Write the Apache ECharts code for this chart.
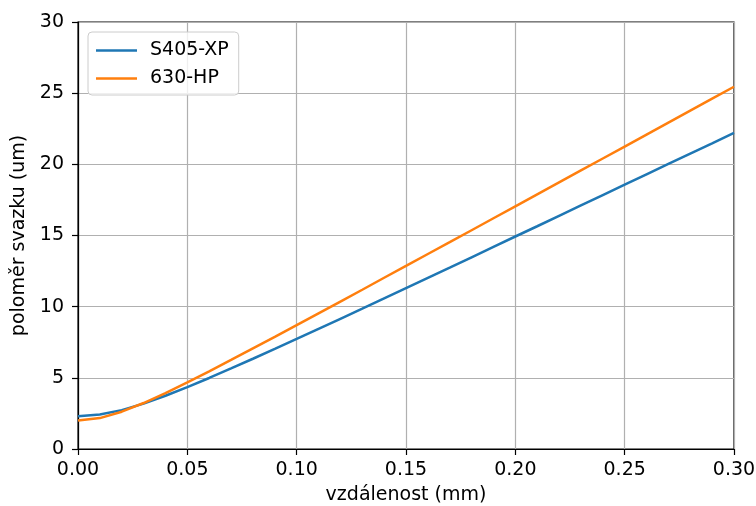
<!DOCTYPE html>
<html><head><meta charset="utf-8">
<script src="https://cdn.jsdelivr.net/npm/echarts@6/dist/echarts.min.js"></script>
<style>html,body{margin:0;padding:0;background:#fff}#c{width:756px;height:506px}</style>
</head><body><div id="c"></div>
<script>
const xValues = [0,0.01,0.02,0.03,0.04,0.05,0.06,0.07,0.08,0.09,0.10,0.11,0.12,0.13,0.14,0.15,0.16,0.17,0.18,0.19,0.20,0.21,0.22,0.23,0.24,0.25,0.26,0.27,0.28,0.29,0.30];
const s405xp = [2.30,2.42,2.73,3.19,3.74,4.35,4.99,5.66,6.34,7.03,7.73,8.44,9.15,9.86,10.58,11.30,12.02,12.74,13.47,14.20,14.93,15.65,16.38,17.11,17.84,18.57,19.30,20.03,20.76,21.48,22.21];
const hp630 = [2.00,2.17,2.62,3.23,3.93,4.68,5.46,6.26,7.07,7.88,8.70,9.53,10.36,11.19,12.03,12.86,13.70,14.53,15.37,16.21,17.05,17.89,18.73,19.57,20.41,21.25,22.09,22.93,23.77,24.61,25.45];
const seriesNames = ['S405-XP','630-HP'];
const xTitle = 'vzdálenost (mm)';
const yTitle = 'poloměr svazku (um)';

const FONT = 'DejaVu Sans';
const FS = 19;
const chart = echarts.init(document.getElementById('c'), null, {renderer:'canvas'});
const pair = (ys) => xValues.map((x,i)=>[x, ys[i]]);
chart.setOption({
  animation:false,
  textStyle:{fontFamily:FONT},
  grid:{left:78,right:22,top:22,bottom:57,containLabel:false,outerBoundsMode:'none',show:true,borderColor:'#000',borderWidth:1.2,backgroundColor:'transparent'},
  legend:{
    orient:'vertical', left:88, top:32, padding:[9,10,7,8], itemGap:9,
    backgroundColor:'rgba(255,255,255,0.8)', borderColor:'#cccccc', borderWidth:1, borderRadius:4,
    icon:'rect', itemWidth:41, itemHeight:2.5,
    textStyle:{fontFamily:FONT,fontSize:FS,color:'#000',padding:[0,0,0,8]},
    data:seriesNames
  },
  xAxis:{
    type:'value', min:0, max:0.3, interval:0.05,
    name:xTitle, nameLocation:'middle', nameGap:37,
    nameTextStyle:{fontFamily:FONT,fontSize:FS,color:'#000'},
    axisLine:{show:true,lineStyle:{color:'#000',width:1.2}},
    axisTick:{show:true,length:6,lineStyle:{color:'#000',width:1.2}},
    axisLabel:{fontFamily:FONT,fontSize:FS,color:'#000',margin:12,formatter:(v)=>v.toFixed(2)},
    splitLine:{show:true,lineStyle:{color:'#b0b0b0',width:1.2}}
  },
  yAxis:{
    type:'value', min:0, max:30, interval:5,
    name:yTitle, nameLocation:'middle', nameGap:38, nameRotate:90,
    nameTextStyle:{fontFamily:FONT,fontSize:FS,color:'#000'},
    axisLine:{show:true,lineStyle:{color:'#000',width:1.2}},
    axisTick:{show:true,length:6,lineStyle:{color:'#000',width:1.2}},
    axisLabel:{fontFamily:FONT,fontSize:FS,color:'#000',margin:14},
    splitLine:{show:true,lineStyle:{color:'#b0b0b0',width:1.2}}
  },
  series:[
    {name:seriesNames[0],type:'line',data:pair(s405xp),showSymbol:false,lineStyle:{color:'#1f77b4',width:2.5},itemStyle:{color:'#1f77b4'}},
    {name:seriesNames[1],type:'line',data:pair(hp630),showSymbol:false,lineStyle:{color:'#ff7f0e',width:2.5},itemStyle:{color:'#ff7f0e'}}
  ]
});
</script></body></html>
